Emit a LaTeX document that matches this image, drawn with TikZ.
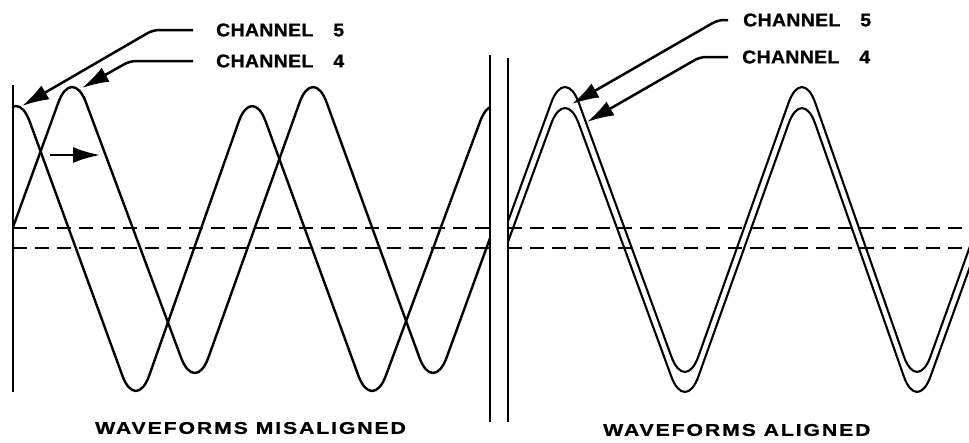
\documentclass[tikz,border=0pt]{standalone}
\usepackage{fontspec}
\setmainfont{Liberation Sans}
\usetikzlibrary{arrows.meta}
\begin{document}
\begin{tikzpicture}[x=1pt,y=-1pt,
  wave/.style={line width=2.4pt, rounded corners=40pt, line join=round},
  wavetwo/.style={line width=2.1pt, rounded corners=40pt, line join=round},
  dashline/.style={line width=2.4pt, dash pattern=on 14pt off 8pt},
  divider/.style={line width=2pt},
  edge/.style={line width=2.6pt},
  leader/.style={line width=2.5pt, rounded corners=6pt, -{Latex[length=27pt,width=16pt]}},
  lbl/.style={font=\fontsize{18.5}{20}\selectfont\bfseries\addfontfeatures{FakeStretch=1.05,LetterSpace=2,FakeBold=0.8}, anchor=west, inner sep=0pt},
  lblb/.style={font=\fontsize{17}{20}\selectfont\bfseries\addfontfeatures{FakeStretch=1.25,LetterSpace=11,FakeBold=0.8}, anchor=west, inner sep=0pt}
]
\useasboundingbox (0,0) rectangle (969,442);

% labels
\node[lbl] (l5) at (216,30) {CHANNEL\hspace*{20pt}5};
\node[lbl] (l4) at (216,61) {CHANNEL\hspace*{20pt}4};
\node[lbl] (r5) at (743,20) {CHANNEL\hspace*{20pt}5};
\node[lbl] (r4) at (742,57) {CHANNEL\hspace*{20pt}4};
\node[lblb] (tm) at (95,428) {WAVEFORMS MISALIGNED};
\node[lblb] (ta) at (603,430) {WAVEFORMS ALIGNED};

% left panel waveforms
\begin{scope}
  \clip (13,0) rectangle (490,442);
  \draw[wave] (-48,395) -- (72,65) -- (195,395) -- (313,65) -- (433,395) -- (553,65);
  \draw[wave] (-104,413) -- (16,84) -- (136,413) -- (252,84) -- (372,413) -- (494,84) -- (614,413);
\end{scope}

% right panel waveforms
\begin{scope}
  \clip (508,0) rectangle (969,442);
  \draw[wavetwo] (445,394) -- (565,65) -- (685,394) -- (802,65) -- (917,394) -- (1035,65);
  \draw[wavetwo] (445,414) -- (565,86) -- (685,414) -- (802,86) -- (917,414) -- (1035,86);
\end{scope}

% dashed reference levels
\draw[dashline] (13,228) -- (490,228);
\draw[dashline] (13,248) -- (490,248);
\draw[dashline] (508,228) -- (969,228);
\draw[dashline] (508,248) -- (969,248);

% frame lines
\draw[edge] (13,85) -- (13,392);
\draw[divider] (490,55) -- (490,422);
\draw[divider] (508,58) -- (508,422);

% leaders
\coordinate (l5s) at (193,30); \coordinate (l5b) at (153,30); \coordinate (l5t) at (22,106);
\coordinate (l4s) at (193,61); \coordinate (l4b) at (130,61); \coordinate (l4t) at (82,88);
\coordinate (r5s) at (728,20); \coordinate (r5b) at (718,20); \coordinate (r5t) at (572,104);
\coordinate (r4s) at (728,57); \coordinate (r4b) at (700,57); \coordinate (r4t) at (587,122);
\coordinate (ms) at (50,155); \coordinate (mt) at (100,155);

\draw[leader] (l5s) -- (l5b) -- (l5t);
\draw[leader] (l4s) -- (l4b) -- (l4t);
\draw[leader] (r5s) -- (r5b) -- (r5t);
\draw[leader] (r4s) -- (r4b) -- (r4t);
\draw[leader] (ms) -- (mt);
\end{tikzpicture}
\end{document}
